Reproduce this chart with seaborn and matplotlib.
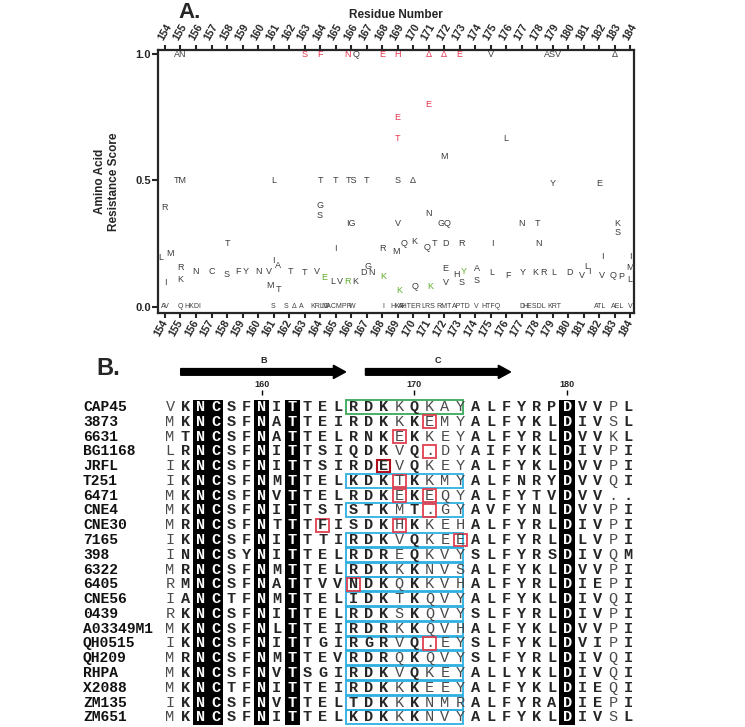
import numpy as np
import matplotlib
matplotlib.use('Agg')
import matplotlib.pyplot as plt
import seaborn as sns
from matplotlib.colors import ListedColormap
from matplotlib.patches import Rectangle

# ++++++++++++++++++++++++++++++++++++++++++++++++++++ Panel A data (residue, score, letter, tone)
res_a = [155.0, 163.0, 164.0, 165.8, 166.3, 168.0, 169.0, 171.0, 172.0, 173.0, 175.0, 179.0, 183.0,
         171.0, 169.0, 169.0, 176.0, 172.0,
         155.0, 161.0, 164.0, 165.0, 166.0, 167.0, 169.0, 170.0, 179.0, 182.0,
         154.0, 164.0, 164.0, 171.0, 166.0, 169.0, 172.0, 177.0, 178.0, 183.2, 183.2,
         158.0, 165.0, 168.0, 168.9, 169.4, 170.1, 170.9, 171.4, 172.1, 173.1, 175.1, 178.1,
         182.2, 184.0, 153.7, 154.3, 161.0, 161.3, 181.2, 167.1, 155.0, 184.0,
         156.0, 157.0, 158.0, 158.7, 159.2, 160.0, 160.7, 162.1, 163.0, 163.8, 166.8, 167.3,
         172.1, 172.8, 173.3, 174.1, 175.1, 176.1, 177.1, 177.9, 178.4, 179.1, 180.1, 180.9,
         181.4, 182.2, 182.9, 183.4,
         164.3, 168.1, 155.0, 184.0, 164.8, 165.3, 165.8, 166.3, 154.0, 172.1, 173.1, 174.1,
         160.8, 161.3, 170.1, 171.1, 169.1]
score_a = [1.0, 1.0, 1.0, 1.0, 1.0, 1.0, 1.0, 1.0, 1.0, 1.0, 1.0, 1.0, 1.0,
           0.80, 0.75, 0.665, 0.665, 0.595,
           0.50, 0.50, 0.50, 0.50, 0.50, 0.50, 0.50, 0.50, 0.49, 0.49,
           0.395, 0.40, 0.36, 0.37, 0.33, 0.33, 0.33, 0.33, 0.33, 0.33, 0.295,
           0.25, 0.23, 0.23, 0.22, 0.25, 0.26, 0.235, 0.25, 0.25, 0.25, 0.25, 0.25,
           0.20, 0.20, 0.195, 0.21, 0.185, 0.165, 0.16, 0.16, 0.155, 0.155,
           0.14, 0.14, 0.13, 0.14, 0.14, 0.14, 0.14, 0.14, 0.135, 0.14, 0.135, 0.135,
           0.15, 0.13, 0.14, 0.15, 0.135, 0.125, 0.135, 0.135, 0.135, 0.135, 0.135, 0.125,
           0.14, 0.125, 0.125, 0.12,
           0.115, 0.12, 0.11, 0.11, 0.10, 0.10, 0.10, 0.10, 0.095, 0.095, 0.095, 0.105,
           0.085, 0.067, 0.08, 0.08, 0.065]
aa_a = ['AN', 'S', 'F', 'N', 'Q', 'E', 'H', 'Δ', 'Δ', 'E', 'V', 'ASV', 'Δ',
        'E', 'E', 'T', 'L', 'M',
        'TM', 'L', 'T', 'T', 'TS', 'T', 'S', 'Δ', 'Y', 'E',
        'R', 'G', 'S', 'N', 'IG', 'V', 'GQ', 'N', 'T', 'K', 'S',
        'T', 'I', 'R', 'M', 'Q', 'K', 'Q', 'T', 'D', 'R', 'I', 'N',
        'I', 'I', 'L', 'M', 'I', 'A', 'L', 'G', 'R', 'M',
        'N', 'C', 'S', 'F', 'Y', 'N', 'V', 'T', 'T', 'V', 'D', 'N',
        'E', 'H', 'Y', 'A', 'L', 'F', 'Y', 'K', 'R', 'L', 'D', 'V',
        'I', 'V', 'Q', 'P',
        'E', 'K', 'K', 'L', 'L', 'V', 'R', 'K', 'I', 'V', 'S', 'S',
        'M', 'T', 'Q', 'K', 'K']
tone_a = ('krrrkrrrrrkkk' + 'rrrkk' + 'kkkkkkkkkk' + 'kkkkkkkkkkk'
          + 'kkkkkkkkkkkk' + 'kkkkkkkkkk' + 'kkkkkkkkkkkk' + 'kkgkkkkkkkkk' + 'kkkk'
          + 'ggkkkkgkkkkk' + 'kkkgg')

# letters printed along the zero line
res_0 = [154.0, 155.0, 155.8, 161.0, 161.8, 162.3, 162.8, 164.0, 165.1, 166.1, 168.1, 169.0,
         169.8, 171.0, 172.0, 173.1, 174.1, 175.0, 177.0, 177.8, 179.1, 182.1, 183.2, 184.0]
aa_0 = ['AV', 'Q', 'HKDI', 'S', 'S', 'Δ', 'A', 'KRLD', 'NACMPR', 'W', 'I', 'HKR',
        'AHTER', 'LRS', 'RMT', 'APTD', 'V', 'HTFQ', 'D', 'HESDL', 'KRT', 'ATL', 'AEL', 'V']

tone_color = {'k': '#3c3c3c', 'r': '#e5334d', 'g': '#5fae2a'}

# ++++++++++++++++++++++++++++++++++++++++++++++++++++ Panel B data
names = ['CAP45', '3873', '6631', 'BG1168', 'JRFL', 'T251', '6471', 'CNE4', 'CNE30', '7165',
         '398', '6322', '6405', 'CNE56', '0439', 'A03349M1', 'QH0515', 'QH209', 'RHPA',
         'X2088', 'ZM135', 'ZM651']
seqs = ['VKNCSFNITTELRDKKQKAYALFYRPDVVPL',
        'MKNCSFNATTEIRDKKKEMYALFYKLDIVSL',
        'MTNCSFNATTELRNKEKKEYALFYRLDVVKL',
        'LRNCSFNITTSIQDKVQ.DYAIFYKLDIVPI',
        'IKNCSFNITTSIRDEVQKEYALFYKLDVVPI',
        'IKNCSFNMTTELKDKTKKMYALFNRYDVVQI',
        'MKNCSFNVTTELRDKEKEQYALFYTVDVV..',
        'MKNCSFNITTSTSTKMT.GYAVFYNLDVVPI',
        'MRNCSFNTTTFISDKHKKEHALFYRLDIVPI',
        'IKNCSFNITTTIRDKVQKEEALFYRLDLVPI',
        'INNCSYNITTELRDREQKVYSLFYRSDIVQM',
        'MRNCSFNMTTELRDKKKNVSALFYKLDVVPI',
        'RMNCSFNATTVVNDKQKKVHALFYRLDIEPI',
        'IANCTFNMTTELIDKTKQVYALFYKLDIVQI',
        'RKNCSFNITTELRDKSKQVYSLFYRLDIVPI',
        'MKNCSFNLTTEIRDRKKQVHALFYKLDVVPI',
        'IKNCSFNITTGIRGRVQ.EYSLFYKLDVIPI',
        'MRNCSFNMTTEVRDRQKQVYSLFYRLDIVQI',
        'MKNCSFNVTSGIRDKVQKEYALLYKLDIVQI',
        'MKNCTFNITTEIRDKKKEEYALFYKLDIEQI',
        'IKNCSFNVTTELTDKKKNMRALFYRADIEPI',
        'MKNCSFNITTELKDKKKNVYALFYKLDIVSL']
first_res = 154
shaded_cols = [2, 3, 6, 8, 26]
light_cols = [0, 15, 17, 18, 19, 29]
green_rows = [0]
blue_rows = [5, 7] + list(range(9, 22))
box_cols = (12, 19)
red_cells = [(1, 17), (2, 15), (3, 17), (5, 15), (6, 15), (6, 17), (7, 17), (8, 10),
             (8, 15), (9, 19), (12, 12), (16, 17)]
dark_red_cells = [(4, 14)]
strands = ['B', 'C']
strand_start = [154.7, 166.8]
strand_end = [165.5, 176.3]
marks = [160, 170, 180]

# ++++++++++++++++++++++++++++++++++++++++++++++++++++ Figure
sns.set_style('ticks')
plt.rcParams['font.family'] = ['Liberation Sans', 'DejaVu Sans']

fig = plt.figure(figsize=(7.45, 7.27), dpi=100)

# ---------- Panel A
ax = fig.add_axes([157.7 / 745, 1 - 313 / 727, (634 - 157.7) / 745, 263 / 727])
ax.set_xlim(153.53, 184.25)
ax.set_ylim(-0.024, 1.016)
for x, y, s, t in zip(res_a, score_a, aa_a, tone_a):
    ax.text(x, y, s, ha='center', va='center', fontsize=6.5, color=tone_color[t])
for x, s in zip(res_0, aa_0):
    ax.text(x, 0.0, s, ha='center', va='center', fontsize=5, color=tone_color['k'])

ax.set_xticks(range(154, 185))
ax.set_yticks([0, 0.5, 1.0])
ax.set_yticklabels(['0.0', '0.5', '1.0'], fontweight='bold', fontsize=8)
ax.tick_params(axis='x', top=True, labeltop=True, direction='out', length=3.5, width=1.5, pad=2)
ax.tick_params(axis='y', direction='out', length=4, width=1.5, pad=1)
for tk in ax.xaxis.get_major_ticks():
    tk.label1.set(rotation=60, ha='right', va='center', rotation_mode='anchor',
                  fontweight='bold', fontsize=7.5)
    tk.label2.set(rotation=60, ha='center', fontweight='bold', fontsize=7.5)
for s in ax.spines.values():
    s.set_linewidth(1.6)
ax.xaxis.set_label_position('top')
ax.set_xlabel('Residue Number', fontweight='bold', fontsize=8.5, labelpad=3)
ax.set_ylabel('Amino Acid\nResistance Score', fontweight='bold', fontsize=8.5, labelpad=11)
fig.text(190 / 745, 1 - 12 / 727, 'A.', fontsize=16, fontweight='bold', ha='center', va='center')

# ---------- Panel B
axb = fig.add_axes([0, 0, 1, (727 - 345) / 727])
letters = np.array([list(s) for s in seqs])
shade = np.zeros(letters.shape)
shade[:, shaded_cols] = 1
sns.heatmap(shade, cmap=ListedColormap(['white', 'black']), vmin=0, vmax=1, cbar=False,
            annot=letters, fmt='', xticklabels=False, yticklabels=False, ax=axb,
            annot_kws=dict(fontsize=11, family='Liberation Mono', fontweight='bold'))
for t in axb.texts:
    c = int(t.get_position()[0])
    if c in light_cols:
        t.set_fontweight('normal')
        t.set_color('#4a4a4a')
axb.set_axis_off()
axb.set_xlim(-10.63, 38.15)
axb.set_ylim(22.15, -3.69)

for r, n in enumerate(names):
    axb.text(-5.2, r + 0.5, n, ha='left', va='center', fontsize=10.5,
             family='Liberation Mono', fontweight='bold', color='#111111')

for r in green_rows:
    axb.add_patch(Rectangle((box_cols[0] + 0.05, r + 0.03), box_cols[1] - box_cols[0] + 0.65, 0.94,
                            fill=False, ec='#3aa85c', lw=1.3))
for r in blue_rows:
    axb.add_patch(Rectangle((box_cols[0] + 0.05, r + 0.03), box_cols[1] - box_cols[0] + 0.65, 0.94,
                            fill=False, ec='#2fb0e0', lw=1.3))
for r, c in red_cells:
    axb.add_patch(Rectangle((c + 0.07, r + 0.07), 0.86, 0.86, fill=False, ec='#e0404f', lw=1.3))
for r, c in dark_red_cells:
    axb.add_patch(Rectangle((c + 0.07, r + 0.07), 0.86, 0.86, fill=False, ec='#b0101c', lw=1.5))

for lab, a, b in zip(strands, strand_start, strand_end):
    x0 = a - first_res + 0.5
    x1 = b - first_res + 0.5
    axb.arrow(x0, -1.87, x1 - x0, 0, width=0.45, head_width=0.9, head_length=0.8,
              length_includes_head=True, fc='black', ec='black')
    axb.text((x0 + x1) / 2, -2.62, lab, ha='center', va='center', fontsize=6.5, fontweight='bold')

for m in marks:
    xm = m - first_res + 0.5
    axb.text(xm, -1.0, str(m), ha='center', va='center', fontsize=6.5, fontweight='bold')
    axb.vlines(xm, -0.62, -0.28, color='black', lw=1)

fig.text(108 / 745, 1 - 368 / 727, 'B.', fontsize=17, fontweight='bold', ha='center', va='center')

fig.savefig('out.png', dpi=100)
